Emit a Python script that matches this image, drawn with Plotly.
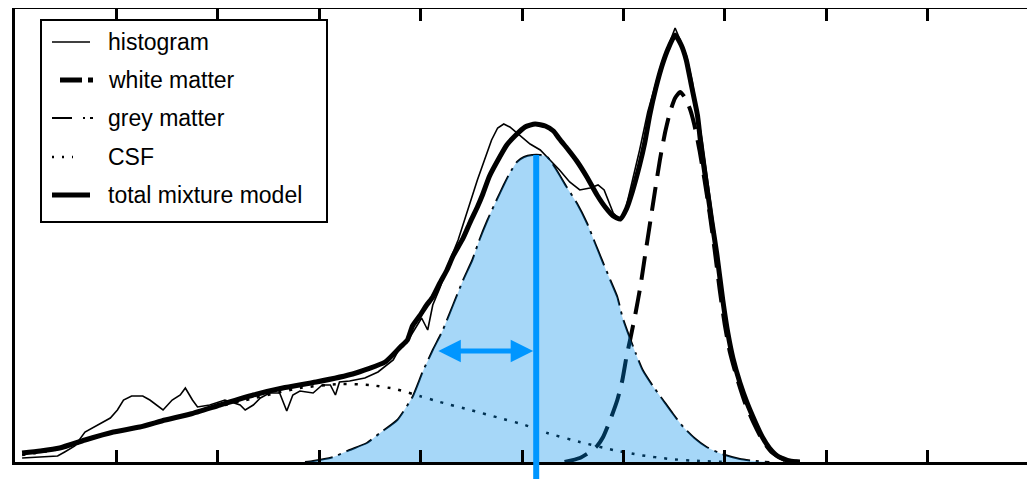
import plotly.graph_objects as go

# ---------------- data (intensity on 0..1000, voxel count on 0..453) ----------------
hist_x = [7, 25, 35, 42, 49, 59, 69, 81, 94, 101, 107, 115, 126, 133, 146, 155, 163, 168, 175, 180,
          192, 207, 222, 227, 235, 242, 251, 261, 268, 274, 281, 294, 303, 311, 316, 320, 330, 345, 358, 373,
          380, 389, 394, 401, 407, 412, 419, 429, 437, 444, 451, 456, 463, 470, 476, 482, 488, 498, 508, 518,
          528, 537, 547, 557, 567, 575, 581, 585, 590, 597, 602, 609, 616, 624, 631, 638, 645, 651, 656, 662,
          668, 672, 678, 683, 688, 693, 698, 703, 709, 715, 723, 730, 737, 744, 752, 760, 774]
hist_y = [4, 5, 5, 6, 10, 16, 30, 37, 44, 52, 62, 66, 66, 62, 52, 62, 67, 74, 62, 55,
          57, 62, 57, 52, 57, 64, 69, 69, 51, 67, 71, 69, 77, 77, 67, 80, 81, 84, 90, 102,
          115, 124, 132, 144, 132, 157, 174, 202, 222, 245, 267, 282, 302, 322, 334, 338, 335, 326, 318, 312,
          302, 292, 280, 272, 274, 277, 272, 262, 249, 242, 252, 282, 312, 350, 376, 400, 418, 434, 422, 407,
          380, 354, 320, 282, 245, 207, 164, 131, 102, 79, 57, 39, 24, 12, 5, 1, 0]

wm_x = [542, 557, 567, 574, 580, 587, 594, 599, 603, 607, 612, 617, 621, 626, 631, 636, 641, 646, 651, 656,
        661, 666, 670, 675, 680, 685, 690, 695, 700, 705, 712, 720, 728, 737, 746, 759, 774]
wm_y = [0, 4, 10, 16, 25, 42, 62, 82, 105, 124, 149, 177, 204, 237, 270, 302, 329, 350, 364, 370,
        364, 352, 337, 312, 282, 249, 212, 172, 137, 110, 84, 59, 40, 22, 10, 2, 0]

gm_x = [286, 294, 314, 330, 347, 360, 377, 392, 402, 412, 422, 432, 442, 451, 458, 466, 475, 482, 488, 495,
        502, 510, 518, 525, 534, 544, 554, 564, 572, 580, 587, 594, 599, 606, 612, 619, 629, 639, 649, 659,
        670, 682, 697, 715, 730, 744]
gm_y = [0, 1, 5, 12, 19, 29, 42, 65, 90, 112, 132, 157, 182, 202, 222, 242, 262, 277, 289, 300,
        305, 307, 307, 305, 292, 275, 259, 239, 219, 199, 182, 165, 145, 125, 109, 92, 76, 62, 48, 35,
        24, 15, 8, 3, 1, 0]

csf_x = [7, 44, 84, 133, 182, 232, 281, 320, 350, 375, 399, 419, 449, 478, 503, 525, 557, 590, 616, 646,
         675, 705]
csf_y = [7, 13, 26, 38, 51, 63, 74, 78, 77, 73, 66, 60, 52, 44, 37, 29, 20, 12, 7, 3,
         1, 0]

total_x = [7, 25, 44, 69, 97, 123, 148, 173, 202, 235, 264, 297, 333, 365, 380, 387, 392, 399, 406, 412,
           419, 426, 432, 442, 449, 456, 461, 468, 478, 485, 493, 503, 513, 523, 531, 537, 545, 554, 564, 574,
           582, 590, 597, 603, 609, 616, 621, 626, 632, 638, 644, 651, 657, 662, 667, 673, 677, 682, 687, 692,
           698, 703, 708, 715, 722, 730, 737, 744, 752, 764, 774]
total_y = [9, 11, 14, 22, 30, 35, 42, 48, 57, 67, 74, 80, 88, 100, 115, 122, 136, 146, 157, 165,
           179, 192, 206, 224, 240, 255, 267, 286, 305, 317, 326, 335, 338, 336, 331, 323, 313, 301, 285, 267,
           255, 246, 243, 253, 271, 297, 319, 347, 374, 396, 413, 427, 417, 402, 377, 347, 312, 277, 242, 209,
           162, 129, 104, 79, 59, 40, 25, 14, 6, 1, 0]

gm_mean = 514        # grey matter mean intensity
gm_sigma = 98        # grey matter spread shown by the arrow
arrow_level = 111    # count level where the spread arrow is drawn

legend_labels = ["histogram", "white matter", "grey matter", "CSF", "total mixture model"]

# ---------------- layout geometry ----------------
W, H = 1035, 479
PAGE_OFF = 8                     # default body margin of the html page
PLOT_L, PLOT_T, PLOT_R, PLOT_B = 15, 9, 1029, 462   # plot area in window pixels
M_L = PLOT_L - PAGE_OFF
M_T = PLOT_T - PAGE_OFF
M_R = W - (PLOT_R - PAGE_OFF)
M_B = H - (PLOT_B - PAGE_OFF)
PLOT_W = PLOT_R - PLOT_L
PLOT_H = PLOT_B - PLOT_T
X_MAX = 1000
Y_MAX = 453

BLACK = "#000000"
BLUE = "#0096ff"
FILL = "rgba(0,140,235,0.35)"
FONT = "Liberation Sans"


def px_x(p):
    """window pixel column -> paper x"""
    return (p - PLOT_L) / PLOT_W


def px_y(p):
    """window pixel row -> paper y"""
    return (PLOT_B - p) / PLOT_H


fig = go.Figure()

fig.add_trace(go.Scatter(x=hist_x, y=hist_y, mode="lines", name=legend_labels[0],
                         line=dict(color=BLACK, width=1.6), showlegend=False))
fig.add_trace(go.Scatter(x=wm_x, y=wm_y, mode="lines", name=legend_labels[1],
                         line=dict(color=BLACK, width=4, dash="24px,11px", shape="spline", smoothing=0.5),
                         showlegend=False))
fig.add_trace(go.Scatter(x=gm_x, y=gm_y, mode="lines", name=legend_labels[2],
                         line=dict(color=BLACK, width=2, dash="28px,6px,3px,6px", shape="spline", smoothing=0.5),
                         showlegend=False))
fig.add_trace(go.Scatter(x=csf_x, y=csf_y, mode="lines", name=legend_labels[3],
                         line=dict(color=BLACK, width=2.5, dash="3px,8px", shape="spline", smoothing=0.5),
                         showlegend=False))
fig.add_trace(go.Scatter(x=total_x, y=total_y, mode="lines", name=legend_labels[4],
                         line=dict(color=BLACK, width=5, shape="spline", smoothing=0.5),
                         showlegend=False))
# translucent grey-matter overlay
fig.add_trace(go.Scatter(x=gm_x, y=gm_y, mode="lines", fill="tozeroy", fillcolor=FILL,
                         line=dict(width=0, shape="spline", smoothing=0.5),
                         showlegend=False, hoverinfo="skip", name="grey matter area"))

shapes = []
annotations = []

# mean line of the grey matter component (runs below the axis)
shapes.append(dict(type="line", xref="x", yref="paper", x0=gm_mean, x1=gm_mean,
                   y0=px_y(H + 4), y1=max(gm_y) / Y_MAX,
                   line=dict(color=BLUE, width=6), layer="above"))

# spread arrow
annotations.append(dict(x=gm_mean, y=arrow_level, ax=gm_mean - gm_sigma, ay=arrow_level,
                        xref="x", yref="y", axref="x", ayref="y", text="", showarrow=True,
                        arrowhead=2, startarrowhead=2, arrowside="end+start",
                        arrowwidth=5, arrowsize=0.9, startarrowsize=0.9,
                        arrowcolor=BLUE, standoff=3, startstandoff=0))

# legend box (manual, to match the sample line lengths of the original)
LEG_L, LEG_T, LEG_R, LEG_B = 41, 20, 327, 222
shapes.append(dict(type="rect", xref="paper", yref="paper",
                   x0=px_x(LEG_L), x1=px_x(LEG_R), y0=px_y(LEG_B), y1=px_y(LEG_T),
                   line=dict(color=BLACK, width=2), fillcolor="white", layer="above"))
rows = [42, 80, 118, 157, 195]
samples = [
    dict(x0=52, x1=90, width=1.6, dash="solid"),
    dict(x0=60, x1=93, width=5, dash="22px,6px"),
    dict(x0=52, x1=93, width=2, dash="20px,11px,2px,5px"),
    dict(x0=52, x1=73, width=2.5, dash="2px,8px"),
    dict(x0=52, x1=90, width=5, dash="solid"),
]
for label, ry, s in zip(legend_labels, rows, samples):
    shapes.append(dict(type="line", xref="paper", yref="paper",
                       x0=px_x(s["x0"]), x1=px_x(s["x1"]), y0=px_y(ry), y1=px_y(ry),
                       line=dict(color=BLACK, width=s["width"], dash=s["dash"]), layer="above"))
    annotations.append(dict(x=px_x(106), y=px_y(ry), xref="paper", yref="paper",
                            text=label, showarrow=False, xanchor="left", yanchor="middle",
                            font=dict(family=FONT, size=23, color=BLACK)))

fig.update_layout(
    width=W, height=H,
    margin=dict(l=M_L, r=M_R, t=M_T, b=M_B, pad=0, autoexpand=False),
    paper_bgcolor="white", plot_bgcolor="white",
    font=dict(family=FONT, size=22, color=BLACK),
    showlegend=False,
    shapes=shapes, annotations=annotations,
    xaxis=dict(range=[0, X_MAX], dtick=100, tick0=0, ticks="inside", ticklen=12, tickwidth=2.5,
               tickcolor=BLACK, showticklabels=False, showline=True, linewidth=3, linecolor=BLACK,
               mirror="ticks", showgrid=False, zeroline=False, fixedrange=True),
    yaxis=dict(range=[0, Y_MAX], ticks="", showticklabels=False, showline=True, linewidth=3,
               linecolor=BLACK, mirror=True, showgrid=False, zeroline=False, fixedrange=True),
)

fig.write_html("out.html")
